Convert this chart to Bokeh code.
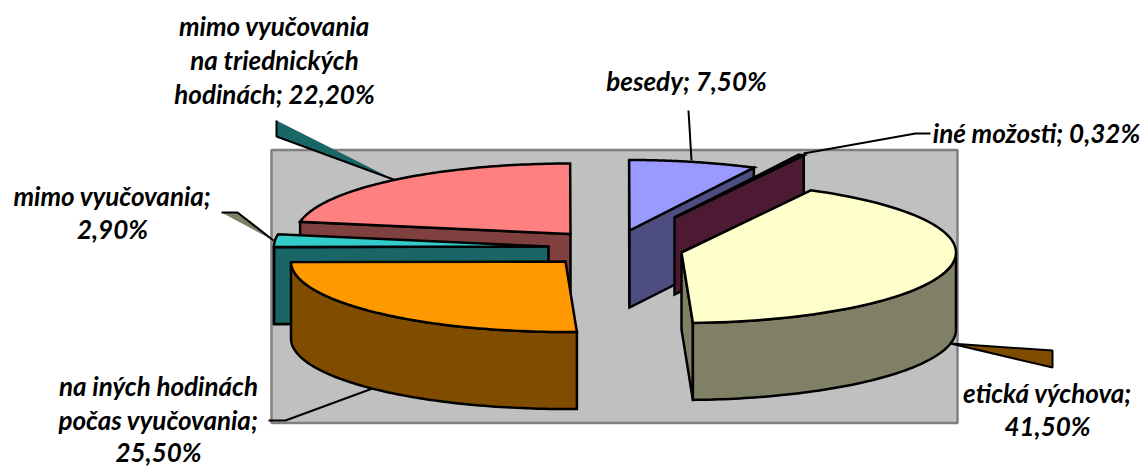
import math
from bokeh.plotting import figure
from bokeh.embed import file_html
from bokeh.resources import INLINE
from bokeh.core.properties import value

# --- data (in chart order, clockwise) ---
categories = ["etická výchova", "na iných hodinách počas vyučovania", "mimo vyučovania",
              "mimo vyučovania na triednických hodinách", "besedy", "iné možosti"]
values = [41.50, 25.50, 2.90, 22.20, 7.50, 0.32]
top_colors = ["#FFFFCC", "#FF9900", "#33CCCC", "#FF8080", "#9999FF", "#993366"]
side_colors = ["#808066", "#804D00", "#1A6666", "#804040", "#4D4D80", "#4D1A33"]

# --- label texts ---
label_lines = ["mimo vyučovania", "na triednických", "hodinách; 22,20%",
               "mimo vyučovania;", "2,90%",
               "na iných hodinách", "počas vyučovania;", "25,50%",
               "besedy; 7,50%", "iné možosti; 0,32%",
               "etická výchova;", "41,50%"]
label_x = [274, 274, 274, 112, 112, 158, 158, 158, 686, 1036, 1047, 1047]
label_y = [25, 59, 93, 195, 228, 385, 419, 451, 80, 132, 392, 425]

# --- layout: exploded slice apexes, ellipse, depth ---
apex_x = [681, 565, 548, 570, 629, 674]
apex_y = [252, 261, 246, 233.5, 230, 217]
RX, RY, DEPTH = 274.5, 70.5, 77
FIRST_T = 61.9
DRAW_ORDER = [3, 2, 1, 4, 5, 0]

# --- leader wedges and lines (layout) ---
wedge_xs = [[276, 276, 393], [221, 237, 273], [950, 1052, 1052]]
wedge_ys = [[120, 136, 179], [212, 212, 240], [343, 350, 367]]
wedge_cols = ["#1A6666", "#808066", "#804D00"]
leader_xs = [[276, 276, 393], [221, 237, 273], [950, 1052, 1052, 950],
             [268, 285, 372], [803, 915, 930], [688, 691]]
leader_ys = [[120, 136, 179], [212, 212, 240], [343, 350, 367, 343],
             [420, 420, 388], [153, 133, 133], [110, 160]]

p = figure(width=1142, height=466, x_range=(0, 1142), y_range=(466, 0),
           toolbar_location=None, output_backend="svg", min_border=0,
           outline_line_color=None, background_fill_color="white",
           border_fill_color="white", x_axis_type=None, y_axis_type=None)
p.grid.visible = False

# plot area
p.quad(left=[271], right=[957], top=[149.5], bottom=[422.5],
       fill_color="#C0C0C0", line_color="#808080", line_width=2.5)

# leaders
p.patches(wedge_xs, wedge_ys, fill_color=wedge_cols, line_color=None)
p.multi_line(leader_xs, leader_ys, line_color="black", line_width=2)


def rim(cx, cy, t):
    r = math.radians(t)
    return cx + RX * math.cos(r), cy - RY * math.sin(r)


def arc(cx, cy, t1, t2, n=80):
    pts = [rim(cx, cy, t1 + (t2 - t1) * i / n) for i in range(n + 1)]
    return [q[0] for q in pts], [q[1] for q in pts]


def face(xs, ys, color):
    p.patch(xs, ys, fill_color=color, line_color="black", line_width=2.5,
            line_join="miter")


total = sum(values)
starts, ends = [], []
t = FIRST_T
for v in values:
    starts.append(t)
    t -= v / total * 360
    ends.append(t)

for i in DRAW_ORDER:
    cx, cy, t1, t2 = apex_x[i], apex_y[i], starts[i], ends[i]
    # radial walls that face the viewer
    for edge, visible in ((t1, math.cos(math.radians(t1)) < 0),
                          (t2, math.cos(math.radians(t2)) > 0)):
        if visible:
            ex, ey = rim(cx, cy, edge)
            face([cx, ex, ex, cx], [cy, ey, ey + DEPTH, cy + DEPTH], side_colors[i])
    # outer wall: the part of the rim on the lower half of the ellipse
    hi_t, lo_t = min(t1, 0), max(t2, -180)
    if hi_t > lo_t:
        ax, ay = arc(cx, cy, hi_t, lo_t)
        face(ax + ax[::-1], ay + [y + DEPTH for y in ay[::-1]], side_colors[i])
    # top
    ax, ay = arc(cx, cy, t1, t2)
    face([cx] + ax, [cy] + ay, top_colors[i])

p.text(label_x, label_y, text=label_lines, text_font=value("Lato"),
       text_font_style="bold italic", text_font_size="26px", text_color="black",
       text_align="center", text_baseline="middle")

open("out.html", "w").write(file_html(p, INLINE))
